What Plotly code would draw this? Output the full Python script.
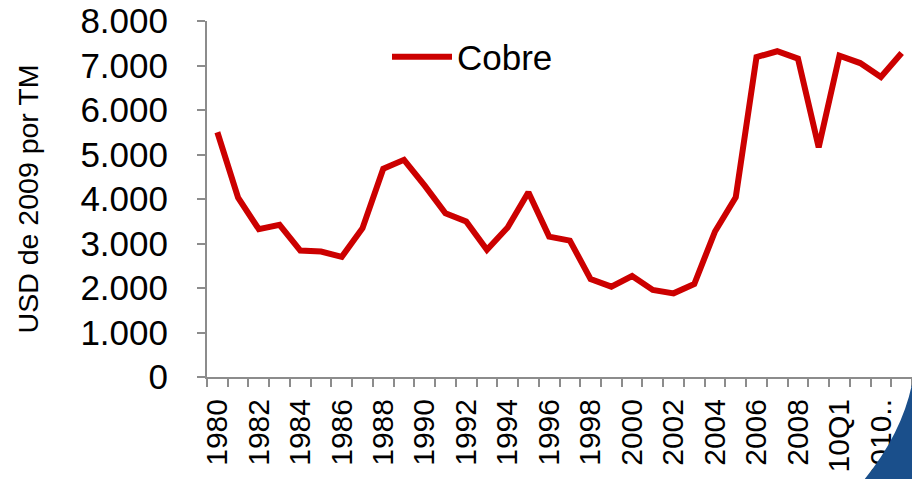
import plotly.graph_objects as go

categories = [str(y) for y in range(1980, 2010)] + ["10Q1", "10Q2", "2010..", "10Q4"]
cobre = [5500, 4030, 3320, 3420, 2840, 2820, 2700, 3345, 4680, 4880,
         4300, 3680, 3495, 2860, 3360, 4150, 3155, 3065, 2200, 2030,
         2270, 1955, 1880, 2090, 3270, 4040, 7190, 7320, 7155, 5160,
         7220, 7055, 6740, 7280]
y_ticks = [0, 1000, 2000, 3000, 4000, 5000, 6000, 7000, 8000]
y_labels = ["0", "1.000", "2.000", "3.000", "4.000", "5.000", "6.000", "7.000", "8.000"]

x_ticktext = [c if i % 2 == 0 else "" for i, c in enumerate(categories)]

FONT = "Liberation Sans"
AXIS = "#8c8c8c"

# page body has an 8px margin; target screen positions of the plot area
OFF = 8
L, R, T, B = 207, 912, 21, 377
W, H = 920, 479

def px(xp):
    return (xp - L) / (R - L)
def py(yp):
    return (B - yp) / (B - T)

fig = go.Figure()
fig.add_trace(go.Scatter(
    x=categories, y=cobre, mode="lines", name="Cobre",
    line=dict(color="#CC0000", width=6, shape="linear"),
))

# decorative blue corner shape
path = (f"M {px(864)},{py(480)} Q {px(913)},{py(420)} {px(916)},{py(353)} "
        f"L {px(921)},{py(353)} L {px(921)},{py(480)} Z")
fig.add_shape(type="path", path=path, xref="paper", yref="paper",
              fillcolor="#1A4F8B", line=dict(width=0), layer="above")

fig.update_layout(
    width=W, height=H,
    margin=dict(l=L - OFF, r=W - (R - OFF), t=T - OFF, b=H - (B - OFF), autoexpand=False),
    paper_bgcolor="white", plot_bgcolor="white",
    font=dict(family=FONT, color="black"),
    showlegend=True,
    legend=dict(x=px(387), y=py(57), xanchor="left", yanchor="middle",
                bgcolor="rgba(0,0,0,0)", font=dict(size=35, family=FONT),
                itemwidth=60, tracegroupgap=0),
    xaxis=dict(
        type="category", categoryorder="array", categoryarray=categories,
        tickmode="array", tickvals=categories, ticktext=x_ticktext,
        tickangle=-90, tickfont=dict(size=30, family=FONT),
        ticks="outside", tickson="boundaries", ticklen=8, tickwidth=2, tickcolor=AXIS,
        showline=True, linecolor=AXIS, linewidth=2,
        showgrid=False, zeroline=False, automargin=False,
        range=[-0.5, len(categories) - 0.5],
        ticklabelstandoff=8, ticklabeloverflow="allow",
    ),
    yaxis=dict(
        range=[0, 8000], tickmode="array", tickvals=y_ticks, ticktext=y_labels,
        tickfont=dict(size=35, family=FONT),
        ticks="outside", ticklen=8, tickwidth=2, tickcolor=AXIS,
        showline=True, linecolor=AXIS, linewidth=2,
        showgrid=False, zeroline=False, automargin=False,
        ticklabelstandoff=22, ticklabeloverflow="allow",
        title=dict(text="USD de 2009 por TM", font=dict(size=28.5, family=FONT), standoff=33),
    ),
)

fig.write_html("out.html")
